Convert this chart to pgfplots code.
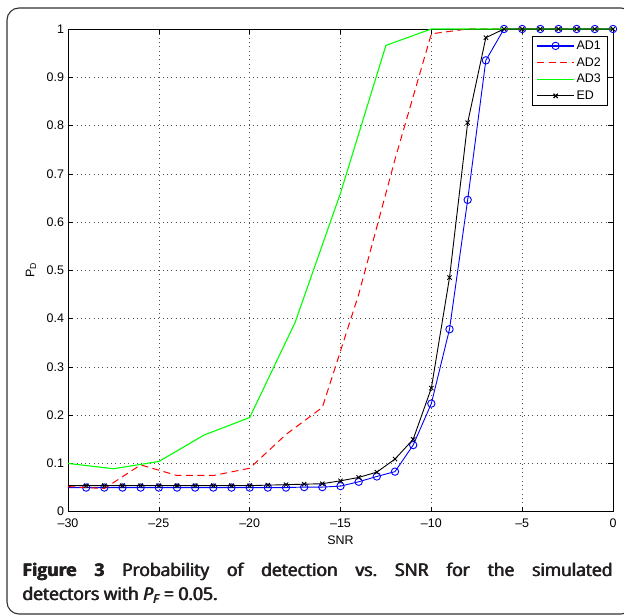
\documentclass[border=0pt]{standalone}
\usepackage{fontspec}
\setmainfont{Liberation Sans}
\newfontfamily\capfont{Open Sans}
\usepackage{pgfplots}
\pgfplotsset{compat=1.18}
\definecolor{captxt}{HTML}{231F20}
\definecolor{boxc}{HTML}{333333}
\definecolor{pgreen}{rgb}{0,1,0}
\definecolor{pblue}{rgb}{0,0,1}
\definecolor{pred}{rgb}{1,0,0}
\newcommand\captext{\frenchspacing{\bfseries Figure 3} Probability of detection vs.\ SNR for the simulated\linebreak detectors with {\itshape P\textsubscript{F}} = 0.05.}
\begin{document}
\begin{tikzpicture}[x=1bp,y=1bp]
\useasboundingbox (-68,-103.3) rectangle (556,511.7);
\draw[rounded corners=12bp, color=boxc, line width=1.1bp] (-61,-102.3) rectangle (565,503.7);
\begin{axis}[
  at={(0,0)}, anchor=south west,
  scale only axis, width=545bp, height=482.7bp,
  xmin=-30, xmax=0, ymin=0, ymax=1,
  xtick={-30,-25,-20,-15,-10,-5,0},
  xticklabels={–30,–25,–20,–15,–10,–5,0},
  ytick={0,0.1,0.2,0.3,0.4,0.5,0.6,0.7,0.8,0.9,1},
  yticklabels={0,0.1,0.2,0.3,0.4,0.5,0.6,0.7,0.8,0.9,1},
  tick label style={font=\fontsize{12.5}{14}\selectfont},
  xticklabel style={yshift=-4bp},
  yticklabel style={xshift=-0.5bp},
  tick align=inside, major tick length=5bp,
  tick style={black, line width=0.6bp},
  axis line style={black, line width=0.9bp},
  grid=major,
  major grid style={black!70, line width=0.6bp, dash pattern=on 0.8bp off 3.5bp},
  xlabel={SNR}, ylabel={P\textsubscript{D}},
  label style={font=\fontsize{12.5}{14}\selectfont},
  xlabel style={at={(axis description cs:0.5,-0.059)}, anchor=center},
  ylabel style={at={(axis description cs:-0.068,0.5)}, anchor=center},
  clip mode=individual,
  legend style={at={(1,1)}, anchor=north east, xshift=-5.7bp, yshift=-7bp,
    line width=0.8bp, font=\fontsize{12.5}{14}\selectfont,
    inner xsep=4bp, inner ysep=2.5bp, row sep=2.5bp},
  legend cell align=left,
  legend image code/.code={\draw[mark repeat=2,mark phase=2,#1] plot coordinates {(0bp,0bp) (18.5bp,0bp) (37bp,0bp)};},
  legend image post style={line width=1.2bp},
]
\addplot[color=pblue, line width=0.9bp, mark=o, mark size=3.7bp, mark phase=2, mark repeat=1, mark options={solid, line width=0.9bp}] coordinates {
(-30,0.050)(-29,0.050)(-28,0.050)(-27,0.050)(-26,0.050)(-25,0.050)(-24,0.050)(-23,0.050)(-22,0.050)(-21,0.050)
(-20,0.050)(-19,0.050)(-18,0.050)(-17,0.051)(-16,0.051)(-15,0.053)(-14,0.062)(-13,0.073)(-12,0.083)(-11,0.138)
(-10,0.224)(-9,0.378)(-8,0.646)(-7,0.935)(-6,1)(-5,1)(-4,1)(-3,1)(-2,1)(-1,1)(0,1)};
\addlegendentry{AD1}
\addplot[color=pred, line width=1bp, dash pattern=on 7bp off 4.5bp] coordinates {
(-30,0.052)(-28,0.048)(-26,0.097)(-24,0.075)(-22,0.075)(-20,0.090)(-18,0.160)(-16,0.216)(-14,0.450)(-12,0.730)
(-10,0.990)(-8,1)(-6,1)(-4,1)(-2,1)(0,1)};
\addlegendentry{AD2}
\addplot[color=pgreen, line width=1.1bp] coordinates {
(-30,0.100)(-27.5,0.089)(-25,0.104)(-22.5,0.159)(-20,0.195)(-17.5,0.392)(-15,0.660)(-12.5,0.966)(-10,1)(-7.5,1)(-5,1)(-2.5,1)(0,1)};
\addlegendentry{AD3}
\addplot[color=black, line width=0.9bp, mark=x, mark size=3bp, mark phase=2, mark repeat=1] coordinates {
(-30,0.054)(-29,0.054)(-28,0.054)(-27,0.054)(-26,0.054)(-25,0.054)(-24,0.054)(-23,0.054)(-22,0.054)(-21,0.054)
(-20,0.054)(-19,0.055)(-18,0.056)(-17,0.057)(-16,0.058)(-15,0.064)(-14,0.071)(-13,0.082)(-12,0.109)(-11,0.150)
(-10,0.256)(-9,0.485)(-8,0.806)(-7,0.982)(-6,1)(-5,1)(-4,1)(-3,1)(-2,1)(-1,1)(0,1)};
\addlegendentry{ED}
\end{axis}
\foreach \dx in {0,0.45,0.9}{
\node[anchor=base west, text width=590bp, align=justify, inner sep=0pt, color=captxt,
  font=\fontsize{17.5}{24}\selectfont\capfont] at (-46+\dx,-65) {\captext};
}
\end{tikzpicture}
\end{document}
